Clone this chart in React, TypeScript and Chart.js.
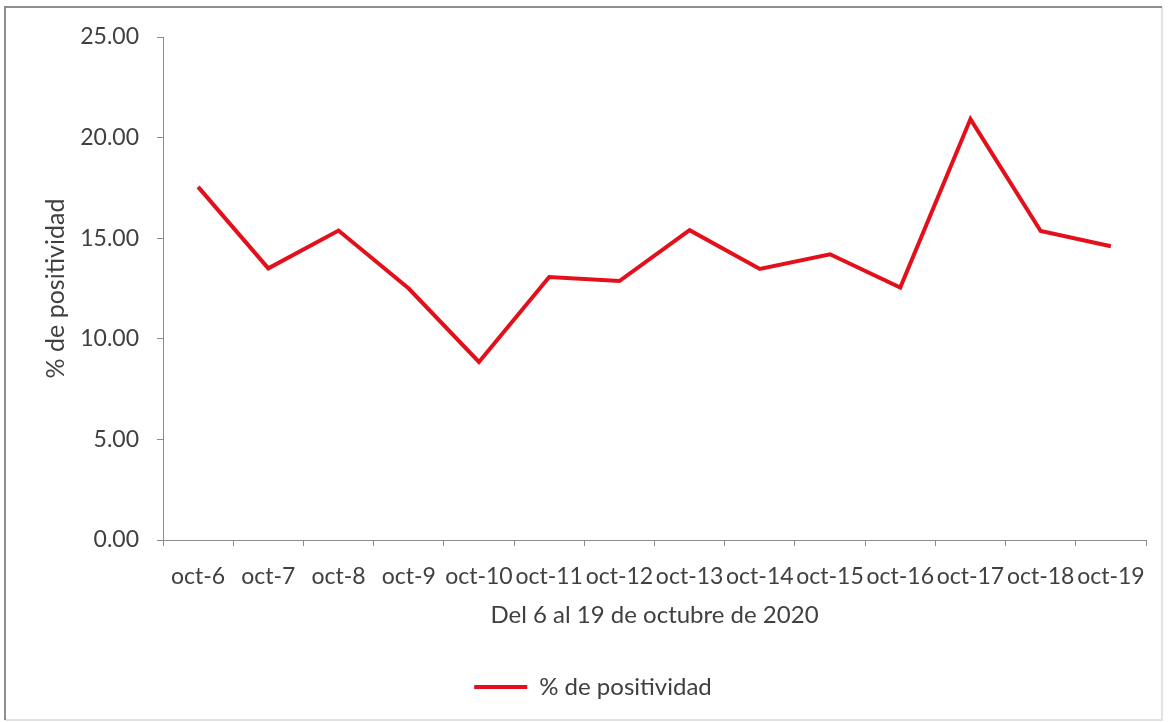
import React, { useEffect, useRef } from "react";
import { Chart, registerables } from "chart.js";

Chart.register(...registerables);

const categories = [
  "oct-6", "oct-7", "oct-8", "oct-9", "oct-10", "oct-11", "oct-12",
  "oct-13", "oct-14", "oct-15", "oct-16", "oct-17", "oct-18", "oct-19",
];
const positividad = [
  17.55, 13.5, 15.38, 12.5, 8.85, 13.07, 12.87,
  15.4, 13.47, 14.2, 12.55, 20.92, 15.36, 14.6,
];
const seriesName = "% de positividad";
const xTitle = "Del 6 al 19 de octubre de 2020";
const yTitle = "% de positividad";

const FONT = "Lato, 'Open Sans', sans-serif";
const TEXT = "#404040";
const AXIS = "#8c8c8c";
const RED = "#e3101c";

const framePlugin = {
  id: "frame",
  beforeDraw(chart: any) {
    const ctx = chart.ctx;
    const w = chart.width;
    const h = chart.height;
    ctx.save();
    ctx.fillStyle = "#ffffff";
    ctx.fillRect(0, 0, w, h);
    ctx.lineWidth = 2;
    ctx.strokeStyle = "#e2e2e2";
    ctx.beginPath();
    ctx.moveTo(w - 8, 7);
    ctx.lineTo(w - 8, h - 2);
    ctx.lineTo(5, h - 2);
    ctx.stroke();
    ctx.strokeStyle = "#8e8e8e";
    ctx.beginPath();
    ctx.moveTo(5, h - 2);
    ctx.lineTo(5, 7);
    ctx.lineTo(w - 8, 7);
    ctx.stroke();
    ctx.restore();
  },
};

export default function App() {
  const ref = useRef<HTMLCanvasElement>(null);

  useEffect(() => {
    if (!ref.current) return;
    const chart = new Chart(ref.current, {
      type: "line",
      data: {
        labels: categories,
        datasets: [
          {
            label: seriesName,
            data: positividad,
            borderColor: RED,
            backgroundColor: RED,
            borderWidth: 4,
            pointRadius: 0,
            tension: 0,
          },
        ],
      },
      options: {
        animation: false,
        responsive: false,
        devicePixelRatio: 1,
        layout: { padding: { top: 37, right: 24, bottom: 13, left: 40 } },
        plugins: {
          tooltip: { enabled: false },
          legend: {
            position: "bottom",
            labels: {
              usePointStyle: true,
              pointStyle: "line",
              pointStyleWidth: 53,
              boxHeight: 24,
              padding: 10,
              color: TEXT,
              font: { family: FONT, size: 24 },
            },
          },
        },
        scales: {
          x: {
            type: "category",
            offset: true,
            afterFit(scale: any) {
              scale.height = 125;
            },
            grid: {
              offset: true,
              drawOnChartArea: false,
              drawTicks: true,
              tickLength: 6,
              color: AXIS,
            },
            border: { color: AXIS, width: 1 },
            ticks: {
              color: TEXT,
              font: { family: FONT, size: 23 },
              maxRotation: 0,
              autoSkip: false,
              padding: 17,
            },
            title: {
              display: true,
              text: xTitle,
              color: TEXT,
              font: { family: FONT, size: 24 },
              padding: { top: 0, bottom: 35 },
            },
          },
          y: {
            min: 0,
            max: 25,
            afterFit(scale: any) {
              scale.width = 123;
            },
            grid: {
              drawOnChartArea: false,
              drawTicks: true,
              tickLength: 6,
              color: AXIS,
            },
            border: { color: AXIS, width: 1 },
            ticks: {
              stepSize: 5,
              color: TEXT,
              font: { family: FONT, size: 23 },
              padding: 18,
              callback: (v: any) => Number(v).toFixed(2),
            },
            title: {
              display: true,
              text: yTitle,
              color: TEXT,
              font: { family: FONT, size: 25 },
              padding: { top: 1, bottom: 0 },
            },
          },
        },
      },
      plugins: [framePlugin],
    });
    return () => chart.destroy();
  }, []);

  return (
    <div style={{ position: "absolute", left: 0, top: 0, width: 1170, height: 722 }}>
      <canvas ref={ref} width={1170} height={722} style={{ display: "block" }} />
    </div>
  );
}
